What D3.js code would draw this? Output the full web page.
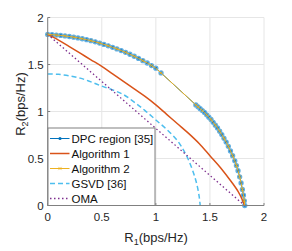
<!DOCTYPE html>
<html><head><meta charset="utf-8">
<script src="https://cdn.jsdelivr.net/npm/d3@7"></script>
<style>body{margin:0;background:#fff;}svg{display:block;font-family:"Liberation Sans",Arial,sans-serif;}</style>
</head><body><svg id="c" width="292" height="251"></svg>
<script>
// DPC region [35] (upper arc, time-sharing segment, lower arc)
const dpcX = [0,0.04,0.08,0.12,0.16,0.20,0.24,0.28,0.32,0.36,0.40,0.44,0.48,0.52,0.56,0.60,0.64,0.68,0.72,0.76,0.80,0.84,0.88,0.92,0.96,1.00,1.048,
  1.37,1.39,1.41,1.43,1.45,1.47,1.49,1.51,1.53,1.55,1.57,1.59,1.61,1.63,1.65,1.67,1.69,1.71,1.73,1.745,1.76,1.775,1.788,1.80,1.81,1.818,1.822];
const dpcY = [1.820,1.817,1.813,1.809,1.804,1.798,1.791,1.783,1.774,1.764,1.753,1.741,1.728,1.714,1.699,1.683,1.666,1.648,1.629,1.609,1.588,1.565,1.541,1.516,1.489,1.461,1.41,
  1.07,1.05,1.03,1.01,0.99,0.965,0.94,0.915,0.885,0.855,0.825,0.79,0.755,0.715,0.675,0.63,0.58,0.53,0.475,0.425,0.37,0.305,0.24,0.17,0.11,0.05,0];
// Algorithm 1
const alg1X = [0,0.1,0.2,0.3,0.4,0.5,0.6,0.7,0.8,0.9,1.0,1.1,1.2,1.3,1.4,1.5,1.6,1.7,1.76,1.8,1.82];
const alg1Y = [1.82,1.76,1.69,1.62,1.55,1.48,1.40,1.32,1.24,1.16,1.07,0.97,0.87,0.77,0.66,0.53,0.40,0.25,0.15,0.06,0];
// Algorithm 2
const alg2X = [0,0.04,0.08,0.12,0.16,0.20,0.24,0.28,0.32,0.36,0.40,0.44,0.48,0.52,0.56,0.60,0.64,0.68,0.72,0.76,0.80,0.84,0.88,0.92,0.96,1.00,1.048,
  1.37,1.39,1.41,1.43,1.45,1.47,1.49,1.51,1.53,1.55,1.57,1.59,1.61,1.63,1.65,1.67,1.69,1.71,1.73,1.745,1.76,1.775,1.788,1.80,1.81,1.818,1.822];
const alg2Y = [1.820,1.817,1.813,1.809,1.804,1.798,1.791,1.783,1.774,1.764,1.753,1.741,1.728,1.714,1.699,1.683,1.666,1.648,1.629,1.609,1.588,1.565,1.541,1.516,1.489,1.461,1.41,
  1.07,1.05,1.03,1.01,0.99,0.965,0.94,0.915,0.885,0.855,0.825,0.79,0.755,0.715,0.675,0.63,0.58,0.53,0.475,0.425,0.37,0.305,0.24,0.17,0.11,0.05,0];
// GSVD [36]
const gsvdX = [0,0.1,0.2,0.3,0.4,0.5,0.6,0.7,0.8,0.9,1.0,1.1,1.2,1.26,1.3,1.35,1.38,1.40,1.41];
const gsvdY = [1.40,1.395,1.38,1.355,1.315,1.27,1.23,1.18,1.10,1.01,0.91,0.81,0.69,0.58,0.49,0.34,0.22,0.10,0];
// OMA
const omaX = [0,1.82];
const omaY = [1.82,0];

const ticks = [0,0.5,1,1.5,2];
const tickLabels = ["0","0.5","1","1.5","2"];
const legendLabels = ["DPC region [35]","Algorithm 1","Algorithm 2","GSVD [36]","OMA"];

const svg = d3.select("#c");
const L=47.7, R=264, T=17.5, B=205.5;
const x = d3.scaleLinear().domain([0,2]).range([L,R]);
const y = d3.scaleLinear().domain([0,2]).range([B,T]);

// grid
const g = svg.append("g");
ticks.forEach(t=>{
  g.append("line").attr("x1",x(t)).attr("x2",x(t)).attr("y1",T).attr("y2",B).attr("stroke","#e6e6e6").attr("stroke-width",1);
  g.append("line").attr("x1",L).attr("x2",R).attr("y1",y(t)).attr("y2",y(t)).attr("stroke","#e6e6e6").attr("stroke-width",1);
});

const zip = (a,b)=>a.map((v,i)=>[v,b[i]]);
const line = d3.line().x(d=>x(d[0])).y(d=>y(d[1]));
const smooth = d3.line().x(d=>x(d[0])).y(d=>y(d[1])).curve(d3.curveCatmullRom);
const plot = svg.append("g");

// DPC
const dpc = zip(dpcX,dpcY);
plot.append("path").attr("d",line(dpc)).attr("fill","none").attr("stroke","#0072BD").attr("stroke-width",1);
plot.selectAll(".dpcm").data(dpc).enter().append("circle").attr("cx",d=>x(d[0])).attr("cy",d=>y(d[1])).attr("r",2)
  .attr("fill","#1f78bf").attr("stroke","#62b0e3").attr("stroke-width",1.3);
// Alg1
plot.append("path").attr("d",smooth(zip(alg1X,alg1Y))).attr("fill","none").attr("stroke","#D95319").attr("stroke-width",1.5);
// GSVD
plot.append("path").attr("d",smooth(zip(gsvdX,gsvdY))).attr("fill","none").attr("stroke","#4DBEEE").attr("stroke-width",1.5).attr("stroke-dasharray","5,3");
// OMA
plot.append("path").attr("d",line(zip(omaX,omaY))).attr("fill","none").attr("stroke","#7E2F8E").attr("stroke-width",1.3).attr("stroke-dasharray","1.5,2.5");
// Alg2
const a2 = zip(alg2X,alg2Y);
plot.append("path").attr("d",line(a2)).attr("fill","none").attr("stroke","#EDB120").attr("stroke-width",1);
const star = (sel,cx,cy,s)=>{
  sel.append("path").attr("d",`M${cx-s},${cy-s}L${cx+s},${cy+s}M${cx-s},${cy+s}L${cx+s},${cy-s}`)
   .attr("stroke","#EDB120").attr("stroke-width",0.7).attr("fill","none");
};
a2.forEach((d,i)=>{ if(i%2===0 || i===26 || i===27) star(plot,x(d[0]),y(d[1]),1.4); });

// axes
const ax = svg.append("g");
ax.append("line").attr("x1",L).attr("x2",R).attr("y1",B).attr("y2",B).attr("stroke","#808080");
ax.append("line").attr("x1",L).attr("x2",L).attr("y1",T).attr("y2",B).attr("stroke","#808080");
ticks.forEach((t,i)=>{
  ax.append("line").attr("x1",x(t)).attr("x2",x(t)).attr("y1",B).attr("y2",B-2.5).attr("stroke","#808080");
  ax.append("line").attr("x1",L).attr("x2",L+2.5).attr("y1",y(t)).attr("y2",y(t)).attr("stroke","#808080");
  ax.append("text").attr("x",x(t)).attr("y",B+15).attr("text-anchor","middle").attr("font-size",11.5).attr("fill","#262626").text(tickLabels[i]);
  ax.append("text").attr("x",L-4).attr("y",y(t)+4).attr("text-anchor","end").attr("font-size",11.5).attr("fill","#262626").text(tickLabels[i]);
});
// axis labels
const xl = ax.append("text").attr("x",156).attr("y",242).attr("text-anchor","middle").attr("font-size",13).attr("fill","#262626");
xl.append("tspan").text("R");
xl.append("tspan").attr("font-size",9).attr("dy",3).text("1");
xl.append("tspan").attr("dy",-3).text("(bps/Hz)");
const yl = ax.append("text").attr("transform","translate(25,104) rotate(-90)").attr("text-anchor","middle").attr("font-size",13).attr("fill","#262626");
yl.append("tspan").text("R");
yl.append("tspan").attr("font-size",9).attr("dy",3).text("2");
yl.append("tspan").attr("dy",-3).text("(bps/Hz)");

// legend
const lg = svg.append("g");
lg.append("rect").attr("x",48).attr("y",128).attr("width",107).attr("height",77.5).attr("fill","#fff").attr("stroke","#808080").attr("stroke-width",1);
const styles = [
  {c:"#0072BD",w:1,dash:null,m:"dot"},
  {c:"#D95319",w:1.5,dash:null},
  {c:"#EDB120",w:1,dash:null,m:"star"},
  {c:"#4DBEEE",w:1.5,dash:"5,3"},
  {c:"#7E2F8E",w:1.3,dash:"1.5,2.5"}
];
legendLabels.forEach((lab,i)=>{
  const yy = 138.5 + i*15;
  const s = styles[i];
  const ln = lg.append("line").attr("x1",50).attr("x2",69.5).attr("y1",yy).attr("y2",yy).attr("stroke",s.c).attr("stroke-width",s.w);
  if(s.dash) ln.attr("stroke-dasharray",s.dash);
  if(s.m==="dot") lg.append("circle").attr("cx",60).attr("cy",yy).attr("r",1.6).attr("fill",s.c);
  if(s.m==="star") star(lg,60,yy,1.6);
  lg.append("text").attr("x",71.5).attr("y",yy+4.2).attr("font-size",11.5).attr("fill","#111").text(lab);
});
</script></body></html>
